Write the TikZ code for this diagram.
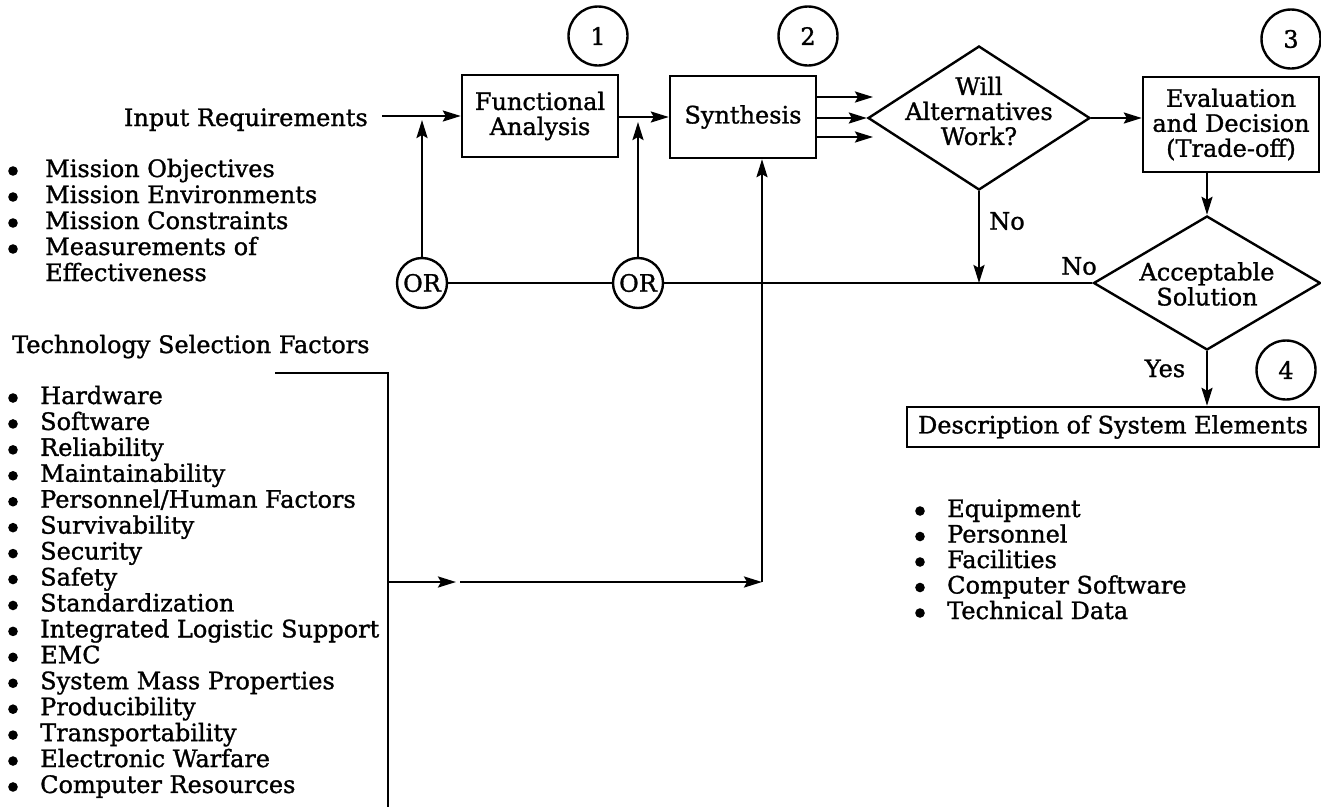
\documentclass[tikz,border=0pt]{standalone}
\usepackage{fontspec}
\setmainfont{DejaVu Serif}[FakeBold=1.2]
\usetikzlibrary{arrows.meta,shapes.geometric}
\begin{document}
\begin{tikzpicture}[x=1pt,y=-1pt,
  font=\fontsize{24}{25}\selectfont,
  every node/.style={inner sep=0pt},
  ln/.style={line width=2.4pt},
  arr/.style={ln,-{Stealth[length=18pt,width=11pt,inset=3pt]}},
  box/.style={draw,ln,rectangle,align=center},
  dia/.style={draw,ln,diamond},
  num/.style={draw,ln,circle,minimum size=59pt},
  orc/.style={draw,ln,circle,minimum size=50pt},
  txt/.style={anchor=base west},
  dot/.style={fill=black},
]
\useasboundingbox (0,0) rectangle (1321,807);

% ---- main flow boxes ----
\node[box,minimum width=156,minimum height=82] (fa) at (540,116) {Functional\\Analysis};
\node[box,minimum width=146,minimum height=82] (syn) at (743,117) {Synthesis};
\node[dia,minimum width=222,minimum height=144] (will) at (979,118) {};
\node[align=center] (willtxt) at (979,111) {Will\\Alternatives\\Work?};
\node[box,minimum width=176,minimum height=95] (eval) at (1231,124.5) {Evaluation\\and Decision\\(Trade-off)};
\node[dia,minimum width=227,minimum height=134] (acc) at (1207,283) {};
\node[align=center] (acctxt) at (1207,284) {Acceptable\\Solution};
\node[box,minimum width=412,minimum height=40] (desc) at (1113,427) {Description of System Elements};

% ---- step numbers ----
\node[num] (n1) at (598,36) {1};
\node[num] (n2) at (808,36) {2};
\node[num] (n3) at (1291,39) {3};
\node[num] (n4) at (1286,370) {4};

% ---- OR junctions ----
\node[orc] (or1) at (422,283) {OR};
\node[orc] (or2) at (638,283) {OR};

% ---- inputs ----
\node[anchor=base east] (inreq) at (368,126) {Input Requirements};
\coordinate (inA) at (382,116);
\draw[arr] (inA) -- (fa.west);
\draw[arr] (or1.north) -- (422,120);
\draw[arr] (fa.east |- syn.west) -- (syn.west);
\draw[arr] (or2.north) -- (638,122);

% ---- synthesis to decision ----
\coordinate (sa) at (816,97);
\coordinate (sb) at (816,137);
\draw[arr] (sa) -- (873,97);
\draw[arr] (syn.east |- will.west) -- (will.west);
\draw[arr] (sb) -- (873,137);
\draw[arr] (will.east) -- (will.east -| eval.west);
\draw[arr] (acc.north |- eval.south) -- (acc.north);
\draw[arr] (will.south) -- (will.south |- acc.west);
\node (no1) at (1007,221) {No};

% ---- feedback line ----
\draw[ln] (or1.east) -- (or2.west);
\draw[ln] (or2.east) -- (acc.west);
\node (no2) at (1079,266) {No};

% ---- output ----
\draw[arr] (acc.south) -- (acc.south |- desc.north);
\node[anchor=base] (yes) at (1165,377) {Yes};

% ---- technology selection factors feed ----
\node[anchor=base west] (tsf) at (12,353) {Technology Selection Factors};
\coordinate (tsA) at (275,373);
\coordinate (tsB) at (388,373);
\coordinate (tsC) at (388,807);
\coordinate (tsJ) at (388,582);
\coordinate (tsM) at (456,582);
\coordinate (tsN) at (460,582);
\coordinate (tsK) at (762,582);
\draw[ln] (tsA) -- (tsB) -- (tsC);
\draw[arr] (tsJ) -- (tsM);
\draw[arr] (tsN) -- (tsK);
\draw[arr] (tsK) -- (tsK |- syn.south);

% ---- bullet lists ----
\foreach \t [count=\i from 0] in {Mission Objectives,Mission Environments,Mission Constraints,Measurements of}{
  \fill[dot] (13,171+26*\i) circle (4.8);
  \node[txt] (mo\i) at (45,177+26*\i) {\t};
}
\node[txt] (mo4) at (45,281) {Effectiveness};

\foreach \t [count=\i from 0] in {Hardware,Software,Reliability,Maintainability,Personnel/Human Factors,Survivability,Security,Safety,Standardization,Integrated Logistic Support,EMC,System Mass Properties,Producibility,Transportability,Electronic Warfare,Computer Resources}{
  \fill[dot] (13,398+25.93*\i) circle (4.8);
  \node[txt] (tf\i) at (40,404+25.93*\i) {\t};
}

\foreach \t [count=\i from 0] in {Equipment,Personnel,Facilities,Computer Software,Technical Data}{
  \fill[dot] (920,511+25.5*\i) circle (4.8);
  \node[txt] (se\i) at (947,517+25.5*\i) {\t};
}
\end{tikzpicture}
\end{document}
